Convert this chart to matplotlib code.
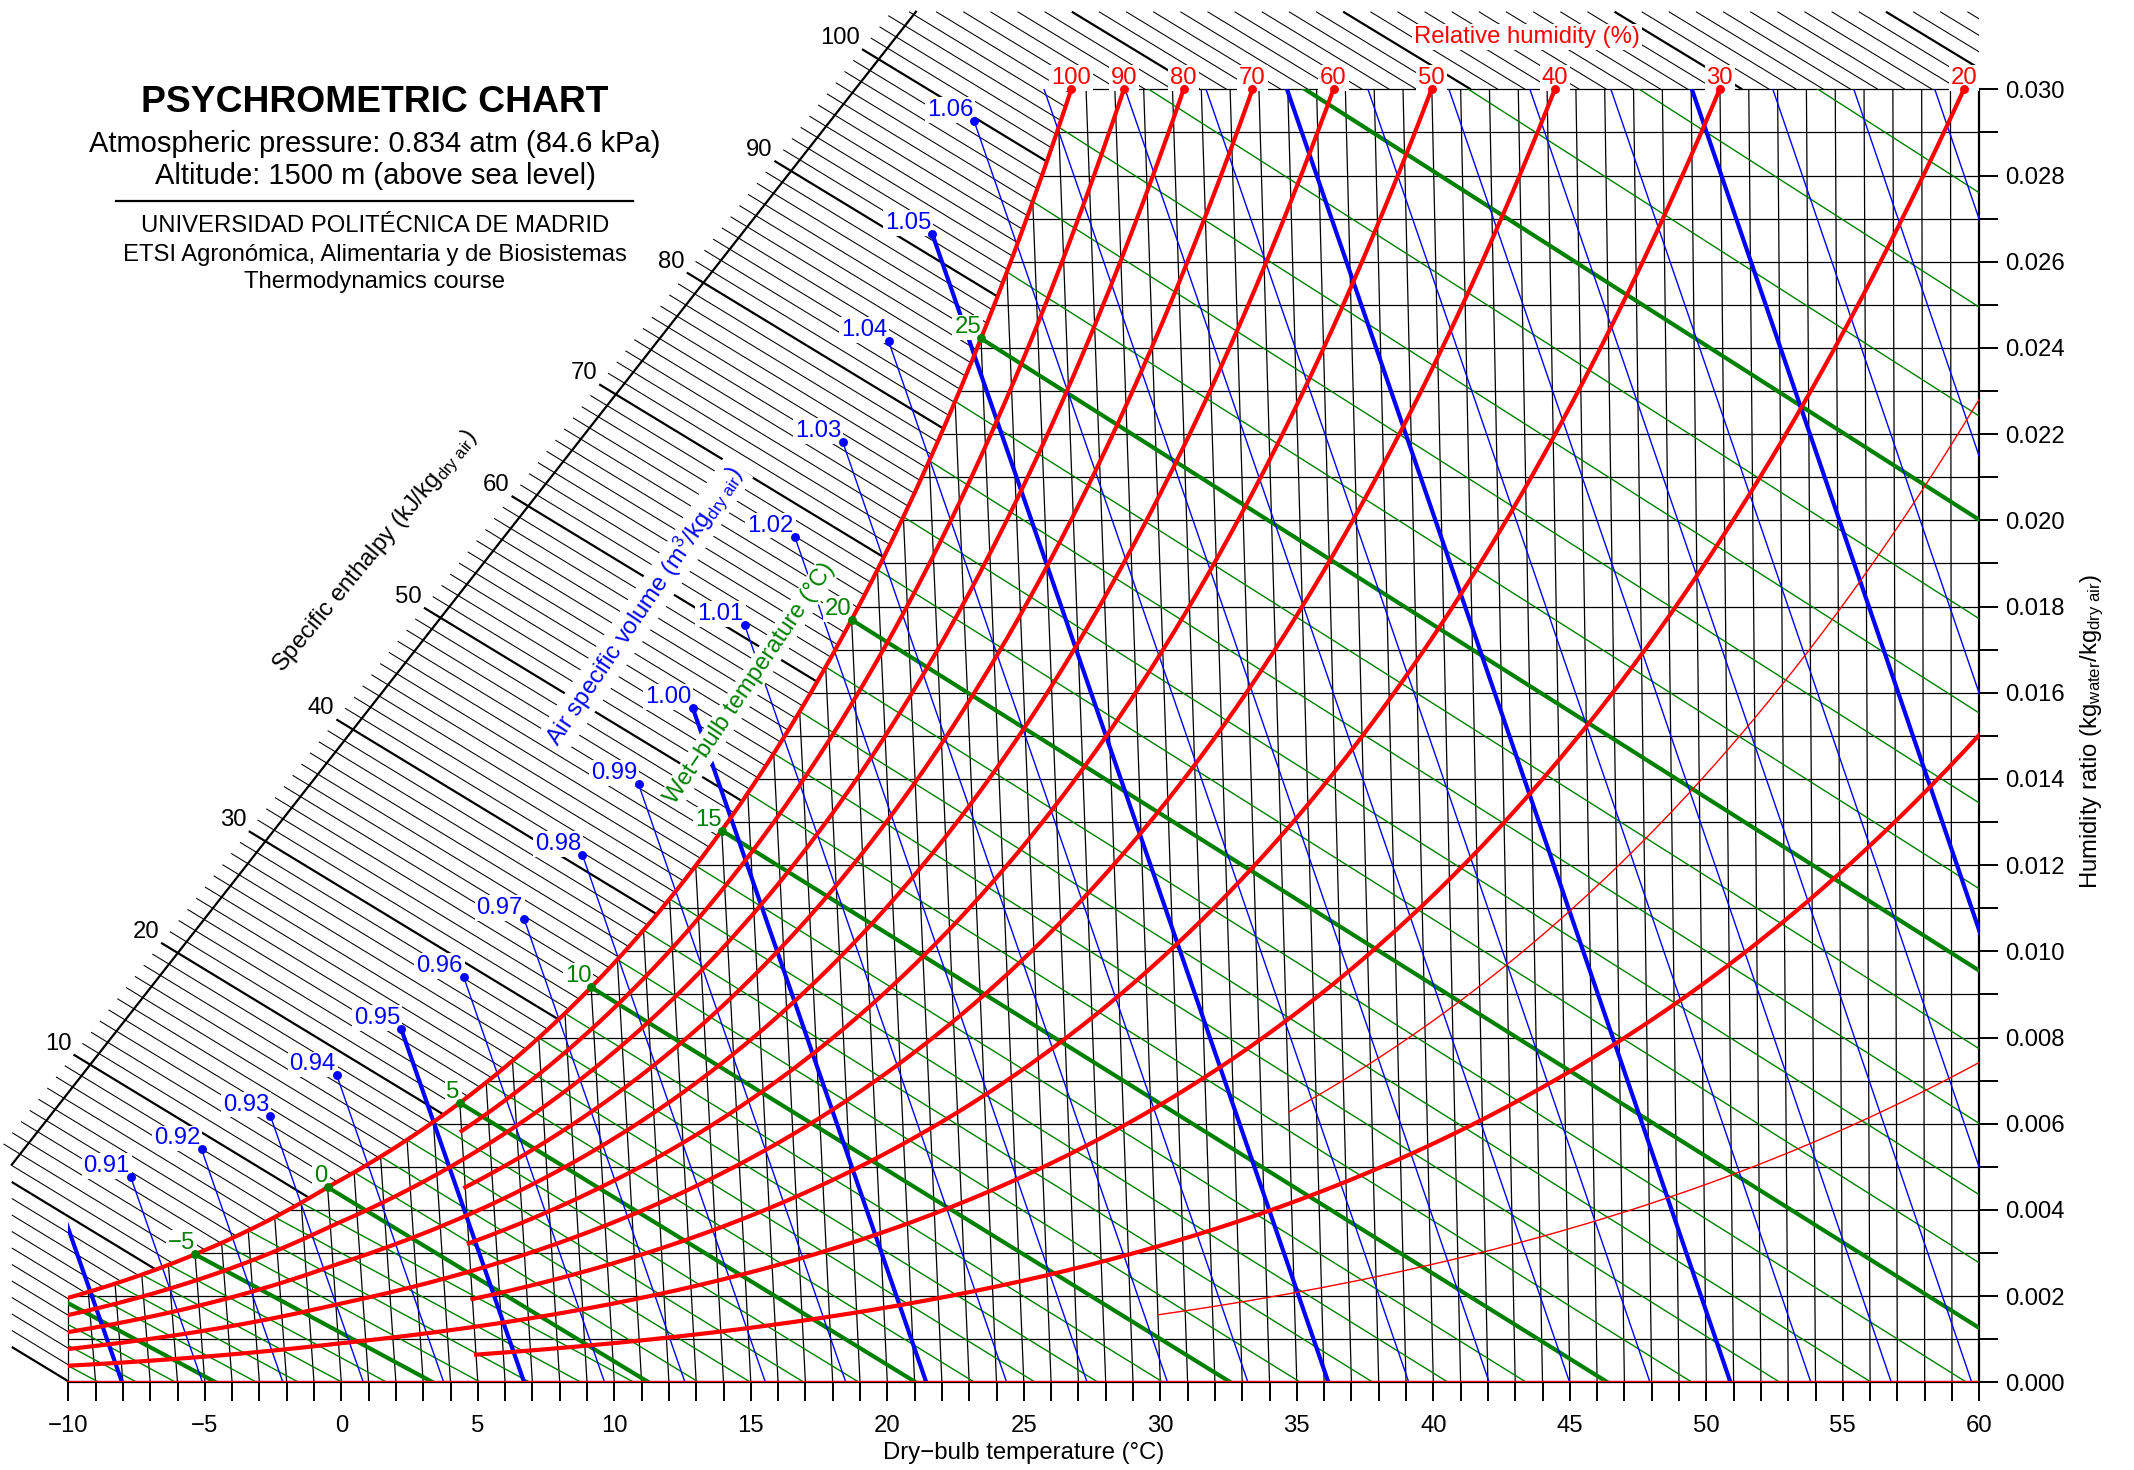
import numpy as np
import matplotlib
matplotlib.use('Agg')
import matplotlib.pyplot as plt
from matplotlib.collections import LineCollection
from matplotlib.patches import Rectangle
from matplotlib.lines import Line2D

plt.rcParams['font.family'] = ['Liberation Sans', 'DejaVu Sans']
plt.rcParams['mathtext.fontset'] = 'custom'
plt.rcParams['mathtext.rm'] = 'Liberation Sans'
plt.rcParams['mathtext.it'] = 'Liberation Sans:italic'
plt.rcParams['mathtext.bf'] = 'Liberation Sans:bold'

# ---- chart definition -------------------------------------------------
altitude = 1500.0                                            # m
p_atm = 101.325 * (1 - 2.25577e-5 * altitude) ** 5.2559      # kPa
t_min, t_max = -10, 60                                       # dry bulb, degC
w_max = 0.030                                                # kg/kg

rh_main = [100, 80, 60, 40, 20]        # drawn from the left edge
rh_mid = [90, 70, 50, 30, 10]          # drawn from 5 degC
rh_mid_start = 5
rh_thin = [15, 5]
rh_thin_start = [35, 30]
rh_labels = [100, 90, 80, 70, 60, 50, 40, 30, 20]
twb_values = list(range(-15, 37))
twb_labels = [-5, 0, 5, 10, 15, 20, 25]
vol_values = [round(0.90 + 0.01 * i, 2) for i in range(29)]
h_values = list(range(-10, 146))
h_label_values = [10, 20, 30, 40, 50, 60, 70, 80, 90, 100]
w_grid = [0.001 * i for i in range(1, 31)]
t_grid = list(range(-9, 60))

RED, GREEN, BLUE = '#ff0000', '#008000', '#0000ff'
FS = 8.6


def p_ws(t):
    T = np.asarray(t, float) + 273.15
    ice = (-5.6745359e3 / T + 6.3925247 - 9.677843e-3 * T + 6.2215701e-7 * T**2
           + 2.0747825e-9 * T**3 - 9.484024e-13 * T**4 + 4.1635019 * np.log(T))
    wat = (-5.8002206e3 / T + 1.3914993 - 4.8640239e-2 * T + 4.1764768e-5 * T**2
           - 1.4452093e-8 * T**3 + 6.5459673 * np.log(T))
    return np.exp(np.where(T < 273.15, ice, wat)) / 1000.0


def w_rh(t, rh):
    pv = rh / 100.0 * p_ws(t)
    return 0.621945 * pv / (p_atm - pv)


def w_wetbulb(t, twb):
    ws = w_rh(twb, 100)
    if twb >= 0:
        return ((2501 - 2.326 * twb) * ws - 1.006 * (t - twb)) / (2501 + 1.86 * t - 4.186 * twb)
    return ((2830 - 0.24 * twb) * ws - 1.006 * (t - twb)) / (2830 + 1.86 * t - 2.1 * twb)


def t_volume(v, w):
    return v * p_atm / (0.287042 * (1 + 1.607858 * w)) - 273.15


def enthalpy(t, w):
    return 1.006 * t + w * (2501 + 1.86 * t)


# oblique enthalpy-humidity coordinates, 60 degC isotherm vertical
C_H = 2501 + 1.86 * t_max


def chart_x(t, w):
    return t + w * 1.86 * (t - t_max) / 1.006


def x_on_h(h, w):
    return (h - C_H * w) / 1.006


def w_on_h(h, x):
    return (h - 1.006 * x) / C_H


# saturation curve
t_sat = np.linspace(-11, 36, 4000)
W_sat = w_rh(t_sat, 100)
X_sat = chart_x(t_sat, W_sat)
H_sat = enthalpy(t_sat, W_sat)

# ---- figure -----------------------------------------------------------
W_PX, H_PX = 2134, 1470
fig = plt.figure(figsize=(W_PX / 200, H_PX / 200), dpi=200)
ax = fig.add_axes([0, 87.7 / H_PX, 1979.3 / W_PX, 1382.3 / H_PX])
ax.set_xlim(-12.502, 60)
ax.set_ylim(0, 0.032072)

clip = Rectangle((t_min, 0), t_max - t_min, w_max, transform=ax.transData,
                 fc='none', ec='none')
ax.add_patch(clip)

# dry bulb isotherms and humidity ratio lines
segs = []
for t in t_grid:
    wt = min(w_rh(t, 100), w_max)
    segs.append([(t, 0), (chart_x(t, wt), wt)])
for w in w_grid:
    segs.append([(max(np.interp(w, W_sat, X_sat), t_min), w), (t_max, w)])
w_edge = np.interp(t_min, X_sat, W_sat)
segs.append([(t_min, 0), (t_min, w_edge)])
lc = LineCollection(segs, colors='black', linewidths=0.45, zorder=2)
lc.set_clip_path(clip)
ax.add_collection(lc)

# enthalpy lines (outside the saturation curve)
sc_x0, sc_w0, sc_x1, sc_w1 = -12.07, 0.00505, 21.05, 0.0318   # scale line
sc_s = (sc_w1 - sc_w0) / (sc_x1 - sc_x0)
tick_out = 0.61
ax.plot([sc_x0, sc_x1], [sc_w0, sc_w1], color='black', lw=0.8, zorder=1)
thin, thick = [], []
for h in h_values:
    xi = (h / C_H - (sc_w0 - sc_s * sc_x0)) / (sc_s + 1.006 / C_H)
    xs = sc_x0 if xi < sc_x0 else xi - tick_out
    ws = w_on_h(h, xs)
    if ws > sc_w1:
        ws = sc_w1
        xs = x_on_h(h, ws)
    xe = np.interp(h, H_sat, X_sat)
    we = np.interp(h, H_sat, W_sat)
    if xe < t_min:
        xe, we = t_min, w_on_h(h, t_min)
    elif we > w_max:
        we, xe = w_max, x_on_h(h, w_max)
        if xe > t_max:
            xe, we = t_max, w_on_h(h, t_max)
    if xs >= xe:
        continue
    (thick if h % 10 == 0 else thin).append([(xs, ws), (xe, we)])
    if h in h_label_values:
        ax.annotate(str(h), (xs, ws), xytext=(-0.8, 0), textcoords='offset points',
                    ha='right', va='bottom', fontsize=FS, zorder=5)
ax.add_collection(LineCollection(thin, colors='black', linewidths=0.38, zorder=1))
ax.add_collection(LineCollection(thick, colors='black', linewidths=0.8, zorder=1))

label_box = dict(boxstyle='square,pad=0.08', fc='white', ec='none')

# wet bulb lines
for twb in twb_values:
    t = np.linspace(twb, 61, 300)
    w = w_wetbulb(t, twb)
    ln, = ax.plot(chart_x(t, w), w, color=GREEN, lw=1.5 if twb % 5 == 0 else 0.5, zorder=3)
    ln.set_clip_path(clip)
for twb in twb_labels:
    ws = w_rh(twb, 100)
    ax.plot(chart_x(twb, ws), ws, 'o', color=GREEN, ms=2.2, zorder=8)
    ax.annotate(str(twb).replace('-', '\u2212'), (chart_x(twb, ws), ws), xytext=(0, 0),
                textcoords='offset points', ha='right', va='bottom', fontsize=FS,
                color=GREEN, bbox=label_box, zorder=5)

# specific volume lines, label dots a few kJ/kg above saturation
wg = np.linspace(0, 0.04, 2000)
for v in vol_values:
    hg = enthalpy(t_volume(v, wg), wg)
    h_dot = 53.84 + 677.7 * (v - 1) + 1460 * (v - 1) ** 2
    w_dot = np.interp(h_dot, hg, wg)
    w_end = min(w_dot, w_max)
    w = np.linspace(0, w_end, 200)
    t = t_volume(v, w)
    major = abs(v * 20 - round(v * 20)) < 1e-6
    ln, = ax.plot(chart_x(t, w), w, color=BLUE, lw=1.5 if major else 0.5, zorder=3)
    ln.set_clip_path(clip)
    xd = chart_x(t_volume(v, w_dot), w_dot)
    if w_dot <= w_max and xd > t_min:
        ax.plot(xd, w_dot, 'o', color=BLUE, ms=2.2, zorder=8)
        ax.annotate('%.2f' % v, (xd, w_dot), xytext=(-0.4, 0), textcoords='offset points',
                    ha='right', va='bottom', fontsize=FS, color=BLUE, bbox=label_box, zorder=5)

# relative humidity curves
def rh_curve(rh, t0, lw):
    t = np.linspace(t0, 61, 800)
    w = w_rh(t, rh)
    ln, = ax.plot(chart_x(t, w), w, color=RED, lw=lw, zorder=6)
    ln.set_clip_path(clip)

for rh in rh_main:
    rh_curve(rh, -10.6, 1.5)
for rh in rh_mid:
    rh_curve(rh, rh_mid_start, 1.5)
for rh, t0 in zip(rh_thin, rh_thin_start):
    rh_curve(rh, t0, 0.5)
ax.plot([t_min, t_max], [0, 0], color=RED, lw=0.8, zorder=6)

tt = np.linspace(-10, 61, 4000)
for rh in rh_labels:
    t30 = np.interp(w_max, w_rh(tt, rh), tt)
    x30 = chart_x(t30, w_max)
    ax.plot(x30, w_max, 'o', color=RED, ms=2.2, zorder=8)
    ax.annotate(str(rh), (x30, w_max), xytext=(0, 0), textcoords='offset points',
                ha='center', va='bottom', fontsize=FS, color=RED, bbox=label_box, zorder=5)


def px(x, y):
    return (x - 68.3) / 27.3 - 10, (1382.3 - y) / 43100


ax.text(*px(1527, 37), 'Relative humidity (%)', color=RED, fontsize=FS,
        ha='center', va='center', bbox=label_box, zorder=5)
ax.text(*px(376, 552), r'Specific enthalpy (kJ/kg$_{\mathrm{dry\ air}}$)', fontsize=FS,
        rotation=50.5, ha='center', va='center', zorder=5)
ax.text(*px(645, 606), r'Air specific volume (m$^3$/kg$_{\mathrm{dry\ air}}$)', fontsize=FS,
        color=BLUE, rotation=56, ha='center', va='center', bbox=label_box, zorder=5)
ax.text(*px(750, 683), 'Wet\u2212bulb temperature (\u00b0C)', fontsize=FS,
        color=GREEN, rotation=56, ha='center', va='center', bbox=label_box, zorder=5)

# axes
for s in ['top', 'left']:
    ax.spines[s].set_visible(False)
ax.spines['bottom'].set_bounds(t_min, t_max)
ax.spines['right'].set_bounds(0, w_max)
for s in ['bottom', 'right']:
    ax.spines[s].set_linewidth(0.8)
ax.set_xticks(range(-10, 61, 5))
ax.set_xticks(range(-10, 61), minor=True)
ax.yaxis.tick_right()
ax.set_yticks([0.002 * i for i in range(16)])
ax.set_yticks([0.001 * i for i in range(31)], minor=True)
ax.yaxis.set_major_formatter(plt.FormatStrFormatter('%.3f'))
ax.tick_params(which='both', direction='out', length=6.8, width=0.7, labelsize=FS)
ax.tick_params(axis='x', pad=5)
ax.tick_params(axis='y', pad=2.5)

fig.text(1023.5 / W_PX, 1 - 1453 / H_PX, 'Dry\u2212bulb temperature (\u00b0C)', fontsize=FS,
         ha='center', va='center')
fig.text(2092 / W_PX, 1 - 731 / H_PX,
         r'Humidity ratio (kg$_{\mathrm{water}}$/kg$_{\mathrm{dry\ air}}$)', fontsize=FS,
         rotation=90, ha='center', va='center')

# title block
cx = 375 / W_PX
fig.text(cx, 1 - 102 / H_PX, 'PSYCHROMETRIC CHART', fontsize=13.4, fontweight='bold',
         ha='center', va='center')
fig.text(cx, 1 - 144 / H_PX, 'Atmospheric pressure: 0.834 atm (84.6 kPa)', fontsize=10.5,
         ha='center', va='center')
fig.text(cx, 1 - 175.5 / H_PX, 'Altitude: 1500 m (above sea level)', fontsize=10.5,
         ha='center', va='center')
fig.add_artist(Line2D([115.7 / W_PX, 632.9 / W_PX], [1 - 201.4 / H_PX] * 2,
                      color='black', lw=0.8))
fig.text(cx, 1 - 226 / H_PX, 'UNIVERSIDAD POLITÉCNICA DE MADRID', fontsize=8.6,
         ha='center', va='center')
fig.text(cx, 1 - 254.5 / H_PX, 'ETSI Agronómica, Alimentaria y de Biosistemas', fontsize=8.6,
         ha='center', va='center')
fig.text(cx, 1 - 281.7 / H_PX, 'Thermodynamics course', fontsize=8.6,
         ha='center', va='center')

fig.savefig('out.png', dpi=200)
